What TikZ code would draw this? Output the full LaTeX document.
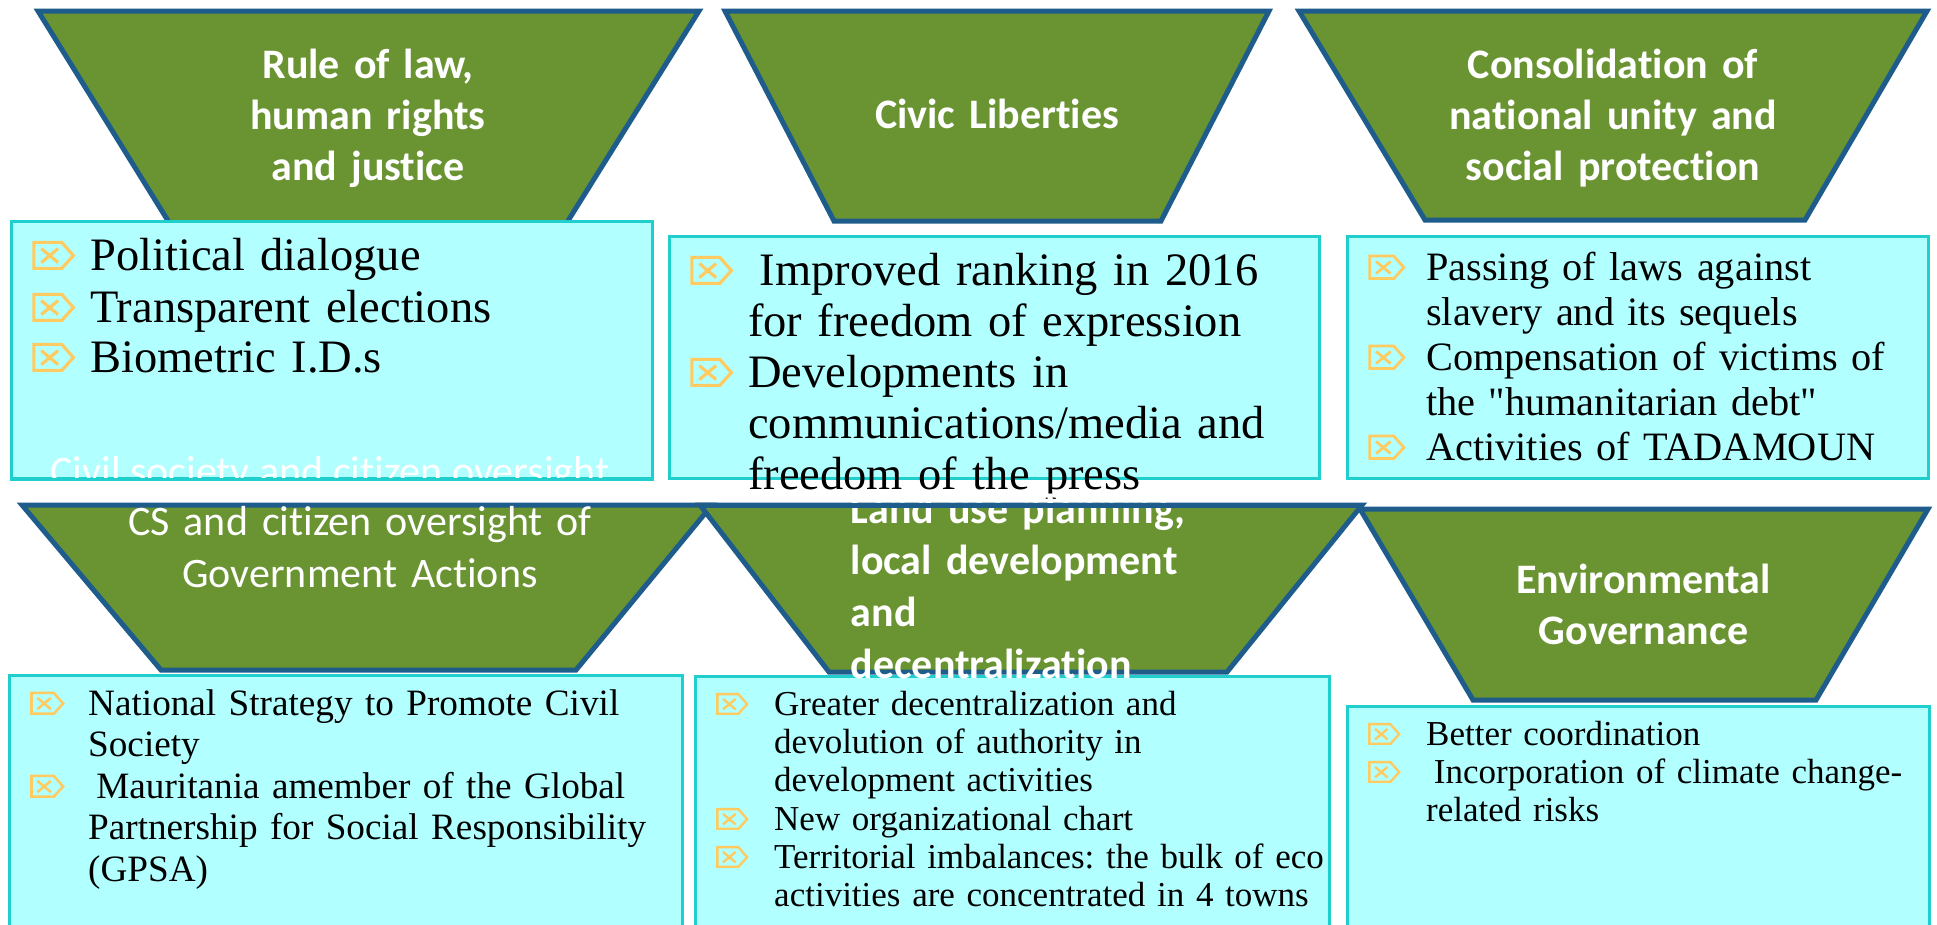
\documentclass[tikz,border=0pt]{standalone}
\usepackage{fontspec}
\newfontfamily\headfont[Ligatures=NoCommon]{Carlito}
\newfontfamily\bodyfont{Liberation Serif}

\definecolor{leaf}{RGB}{106,147,50}
\definecolor{rim}{RGB}{30,92,139}
\definecolor{ice}{RGB}{178,255,255}
\definecolor{aqua}{RGB}{32,206,206}
\definecolor{amber}{RGB}{255,202,96}

\tikzset{
  funnel/.style={fill=leaf, draw=rim, line width=5pt, line join=miter},
  rimline/.style={draw=rim, line width=5pt},
  panel/.style={fill=ice, draw=aqua, line width=2.5pt, inner sep=0pt, anchor=north west},
  title/.style={text=white, inner sep=0pt, anchor=base, align=center, text width=660pt,
    font=\headfont\bfseries\fontsize{42}{51}\selectfont},
  itemtext/.style={inner sep=0pt, anchor=base west, align=left, text width=900pt},
  tagline/.style={draw=amber, line join=miter}
}

% bullet tag with a cross: x of left edge, baseline, font size
\newcommand\xtag[3]{%
  \draw[tagline, line width={0.068*#3}]
    ({#1+0.04*#3},{#2-0.035*#3}) -- ({#1+0.64*#3},{#2-0.035*#3})
    -- ({#1+0.89*#3},{#2-0.31*#3}) -- ({#1+0.64*#3},{#2-0.595*#3})
    -- ({#1+0.04*#3},{#2-0.595*#3}) -- cycle
    ({#1+0.2*#3},{#2-0.16*#3}) -- ({#1+0.56*#3},{#2-0.46*#3})
    ({#1+0.2*#3},{#2-0.46*#3}) -- ({#1+0.56*#3},{#2-0.16*#3});%
}
% one bulleted entry: name, panel left x, baseline, font size, line skip, text
\newcommand\tagitem[6]{%
  \xtag{#2+22}{#3}{#4}%
  \node[itemtext, font=\bodyfont\fontsize{#4}{#5}\selectfont\frenchspacing] (#1) at ({#2+80},#3) {#6};%
}

\begin{document}
\begin{tikzpicture}[x=1pt, y=-1pt]
\clip (0,0) rectangle (1937,924);
\fill[white] (0,0) rectangle (1937,924);

% ---------- upper row ----------
\draw[funnel] (38,11) -- (699,11) -- (566,224) -- (170,224) -- cycle;
\draw[funnel] (725,11) -- (1269,11) -- (1161,221) -- (834,221) -- cycle;
\draw[funnel] (1299,11) -- (1927,11) -- (1805,220) -- (1425,220) -- cycle;

\node[panel, minimum width=641pt, minimum height=257pt] (p1) at (10,220) {};
\node[panel, minimum width=650pt, minimum height=242pt] (p2) at (668,235) {};
\node[panel, minimum width=581pt, minimum height=242pt] (p3) at (1346,235) {};

\node[title] (t1) at (368,78) {Rule of law,\\human rights\\and justice};
\node[title] (t2) at (997,128) {Civic Liberties};
\node[title] (t3) at (1613,78) {Consolidation of\\national unity and\\social protection};

\tagitem{a1}{10}{270}{46.5}{51}{Political dialogue}
\tagitem{a2}{10}{322}{46.5}{51}{Transparent elections}
\tagitem{a3}{10}{372}{46.5}{51}{Biometric I.D.s}

\node[text=white, inner sep=0pt, anchor=base, font=\headfont\fontsize{42}{51}\selectfont]
  (cs) at (330,485) {Civil society and citizen oversight};
\draw[draw=aqua, line width=2.5pt] (p1.south west) -- (p1.south east);

\tagitem{b1}{668}{285}{46.5}{51.3}{\hspace*{0.25em}Improved ranking in 2016\\for freedom of expression}
\tagitem{b2}{668}{387}{46.5}{51.3}{Developments in\\communications/media and\\freedom of the press}

\tagitem{c1}{1346}{280}{40.3}{45}{Passing of laws against\\slavery and its sequels}
\tagitem{c2}{1346}{370}{40.3}{45}{Compensation of victims of\\the "humanitarian debt"}
\tagitem{c3}{1346}{460}{40.3}{45}{Activities of TADAMOUN}

% ---------- lower row ----------
\draw[funnel] (22,505) -- (712,505) -- (576,670) -- (161,670) -- cycle;
\draw[funnel] (700,505) -- (1362,505) -- (1227,672) -- (829,672) -- cycle;
\draw[funnel] (1360,509) -- (1928,509) -- (1816,700) -- (1473,700) -- cycle;

\node[panel, minimum width=673pt, minimum height=260pt] (p4) at (8,674) {};
\node[panel, minimum width=634pt, minimum height=260pt] (p5) at (694,675) {};
\node[panel, minimum width=582pt, minimum height=230pt] (p6) at (1346,705) {};

\node[title, font=\headfont\fontsize{42}{52}\selectfont] (t4) at (360,535)
  {CS and citizen oversight of\\Government Actions};
\node[title, anchor=base west, align=left, font=\headfont\bfseries\fontsize{42}{51.7}\selectfont]
  (t5) at (850.5,523) {Land use planning,\\local development\\and\\decentralization};
\draw[rimline] (700,505) -- (1362,505);
\node[title] (t6) at (1643.5,593) {Environmental\\Governance};

\tagitem{d1}{8}{715}{37.2}{41.7}{National Strategy to Promote Civil\\Society}
\tagitem{d2}{8}{798}{37.2}{41.7}{\hspace*{0.22em}Mauritania amember of the Global\\Partnership for Social Responsibility\\(GPSA)}

\tagitem{e1}{694}{715}{35}{38.4}{Greater decentralization and\\devolution of authority in\\development activities}
\tagitem{e2}{694}{830}{35}{38.4}{New organizational chart}
\tagitem{e3}{694}{868}{35}{38.4}{Territorial imbalances: the bulk of eco\\activities are concentrated in 4 towns}

\tagitem{f1}{1346}{745}{35}{38.4}{Better coordination}
\tagitem{f2}{1346}{783}{35}{38.4}{\hspace*{0.22em}Incorporation of climate change-\\related risks}
\end{tikzpicture}
\end{document}
